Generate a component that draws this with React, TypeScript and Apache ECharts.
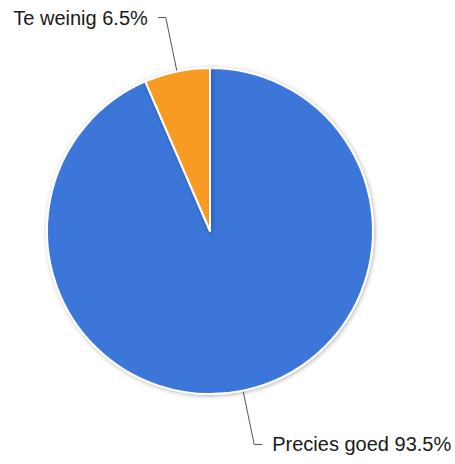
import React, { useEffect, useRef } from "react";
import * as echarts from "echarts";

const categories = ["Precies goed", "Te weinig"];
const values = [93.5, 6.5];
const colors = ["#3a76d8", "#f99a20"];

export default function App() {
  const ref = useRef<HTMLDivElement>(null);
  useEffect(() => {
    const chart = echarts.init(ref.current!, null, { renderer: "svg" });
    chart.setOption({
      animation: false,
      series: [
        {
          type: "pie",
          center: [210, 231],
          radius: [0, 163],
          startAngle: 90,
          clockwise: true,
          avoidLabelOverlap: false,
          data: categories.map((c, i) => ({
            name: c,
            value: values[i],
            itemStyle: { color: colors[i] },
          })),
          itemStyle: {
            borderColor: "#ffffff",
            borderWidth: 2,
            shadowBlur: 4,
            shadowOffsetX: 1,
            shadowOffsetY: 1,
            shadowColor: "rgba(0,0,0,0.3)",
          },
          label: {
            show: true,
            formatter: (p: any) => `${p.name} ${p.value}%`,
            fontFamily: "'Liberation Sans', Arial, sans-serif",
            fontSize: 20,
            color: "#1a1a1a",
            distanceToLabelLine: 10,
          },
          labelLine: {
            show: true,
            length: 55,
            length2: 8,
            lineStyle: { color: "#555555", width: 1 },
          },
          emphasis: { disabled: true },
        },
      ],
    });
    return () => chart.dispose();
  }, []);
  return (
    <div
      ref={ref}
      style={{ position: "absolute", left: 0, top: 0, width: 455, height: 464 }}
    />
  );
}
